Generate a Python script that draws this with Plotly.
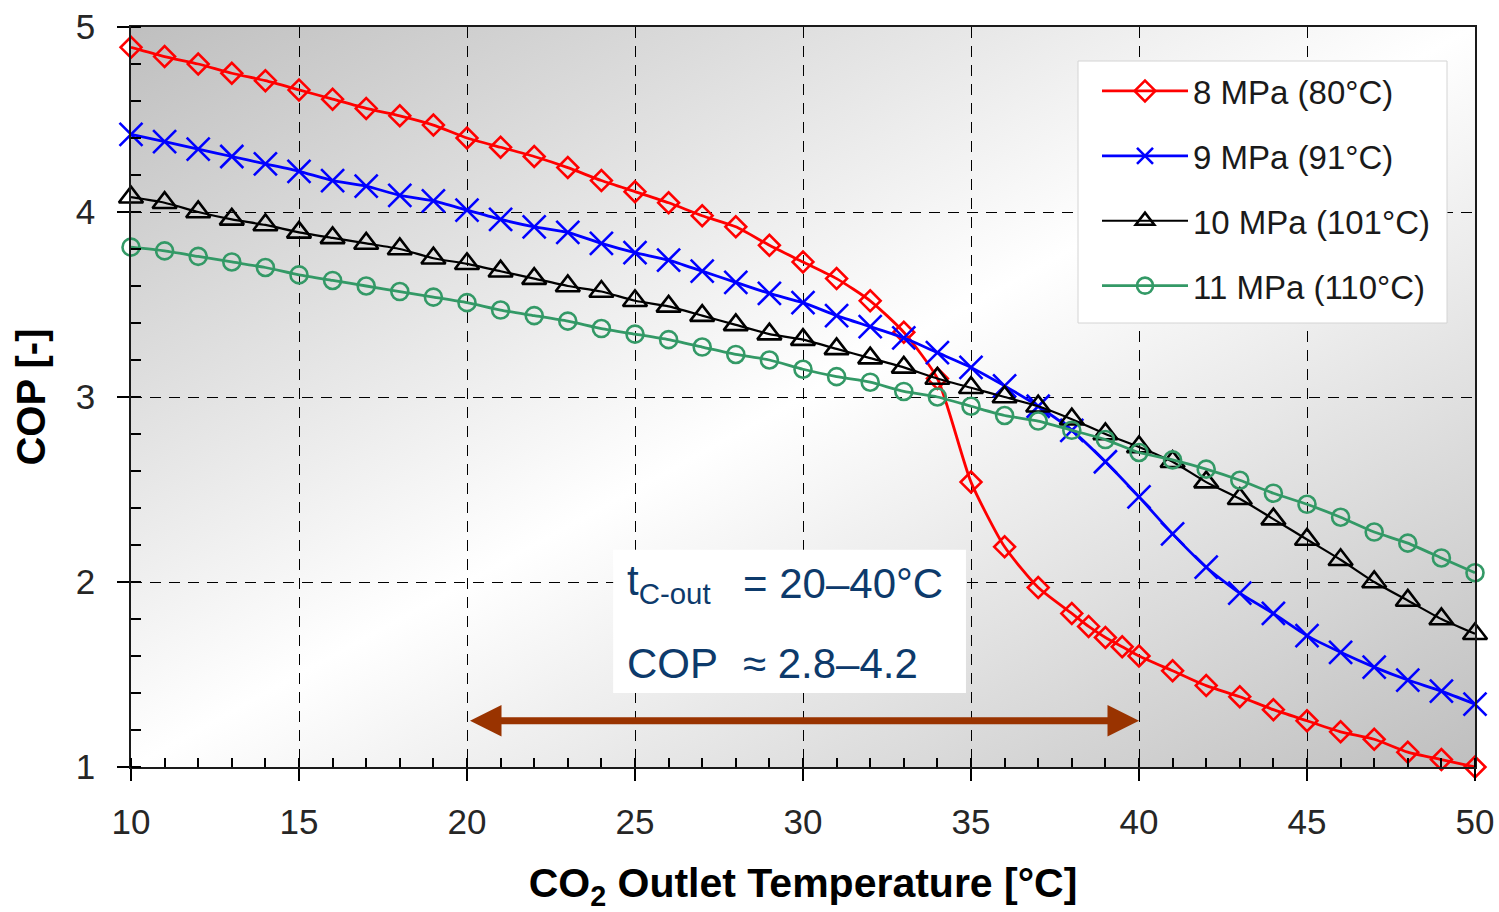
import base64
import plotly.graph_objects as go

# ---------------- data ----------------
temps = list(range(10, 51))
temps_8mpa = list(range(10, 39)) + [38.5, 39, 39.5, 40] + list(range(41, 51))

cop_8mpa = [4.89, 4.84, 4.80, 4.75, 4.71, 4.66, 4.61, 4.56, 4.52, 4.47,
            4.40, 4.35, 4.30, 4.24, 4.17, 4.11, 4.05, 3.98, 3.92, 3.82,
            3.73, 3.64, 3.52, 3.35, 3.10, 2.54, 2.19, 1.97, 1.83,
            1.76, 1.70, 1.65, 1.60,
            1.52, 1.44, 1.38, 1.31, 1.25, 1.19, 1.15, 1.08, 1.04, 1.00]

cop_9mpa = [4.42, 4.38, 4.34, 4.30, 4.26, 4.22, 4.17, 4.14, 4.09, 4.06,
            4.01, 3.96, 3.92, 3.89, 3.83, 3.78, 3.74, 3.68, 3.62, 3.56,
            3.51, 3.44, 3.38, 3.32, 3.24, 3.16, 3.06, 2.95, 2.82, 2.65,
            2.46, 2.26, 2.08, 1.94, 1.83, 1.71, 1.62, 1.54, 1.47, 1.41,
            1.34]

cop_10mpa = [4.08, 4.05, 4.00, 3.96, 3.93, 3.89, 3.86, 3.83, 3.80, 3.75,
             3.72, 3.68, 3.64, 3.60, 3.57, 3.52, 3.49, 3.44, 3.39, 3.34,
             3.31, 3.26, 3.21, 3.16, 3.10, 3.05, 3.00, 2.95, 2.88, 2.80,
             2.73, 2.65, 2.54, 2.45, 2.34, 2.23, 2.12, 2.00, 1.90, 1.80,
             1.72]

cop_11mpa = [3.81, 3.79, 3.76, 3.73, 3.70, 3.66, 3.63, 3.60, 3.57, 3.54,
             3.51, 3.47, 3.44, 3.41, 3.37, 3.34, 3.31, 3.27, 3.23, 3.20,
             3.15, 3.11, 3.08, 3.03, 3.00, 2.95, 2.90, 2.87, 2.82, 2.77,
             2.70, 2.66, 2.61, 2.55, 2.48, 2.42, 2.35, 2.27, 2.21, 2.13,
             2.05]

series_names = ["8 MPa (80°C)", "9 MPa (91°C)", "10 MPa (101°C)", "11 MPa (110°C)"]

x_ticks = [10, 15, 20, 25, 30, 35, 40, 45, 50]
y_ticks = [1, 2, 3, 4, 5]

range_x = [20, 40]
range_cop = "2.8–4.2"
arrow_y = 1.25

FONT = "Liberation Sans, Arial, sans-serif"
TEXT_BLUE = "#0d3a6b"

# ---------------- figure ----------------
fig = go.Figure()

styles = [
    (temps_8mpa, cop_8mpa, "#ff0000", "diamond-open", 16, 2.8),
    (temps, cop_9mpa, "#0000ff", "x-thin-open", 23, 2.8),
    (temps, cop_10mpa, "#000000", "triangle-up-open", 21, 2.2),
    (temps, cop_11mpa, "#339966", "circle-open", 17, 2.8),
]
for i, (xs, ys, col, sym, sz, lw) in enumerate(styles):
    fig.add_trace(go.Scatter(
        x=xs, y=ys, name=series_names[i], mode="lines+markers",
        legendgroup=f"g{i}",
        line=dict(color=col, width=lw, shape="spline", smoothing=0.6),
        marker=dict(symbol=sym, size=sz, color=col,
                    line=dict(color=col, width=2.6)),
        cliponaxis=False,
    ))

# background gradient (diagonal: gray -> white -> gray)
svg = ('<svg xmlns="http://www.w3.org/2000/svg" width="100" height="100" '
       'viewBox="0 0 100 100" preserveAspectRatio="none"><defs>'
       '<linearGradient id="g" x1="0" y1="0" x2="1" y2="1">'
       '<stop offset="0" stop-color="#bfbfbf"/>'
       '<stop offset="0.5" stop-color="#ffffff"/>'
       '<stop offset="1" stop-color="#bfbfbf"/>'
       '</linearGradient></defs>'
       '<rect width="100" height="100" fill="url(#g)"/></svg>')
src = "data:image/svg+xml;base64," + base64.b64encode(svg.encode()).decode()
fig.add_layout_image(dict(source=src, xref="paper", yref="paper", x=0, y=1,
                          sizex=1, sizey=1, sizing="stretch",
                          xanchor="left", yanchor="top", layer="below"))

# legend frame (drawn as a shape so the entries can be padded inside it)
fig.add_shape(type="rect", xref="paper", yref="paper",
              x0=(1078 - 131) / 1344, x1=(1447 - 131) / 1344,
              y0=(767 - 323) / 740, y1=(767 - 61) / 740,
              fillcolor="white", line=dict(color="#d4d4d4", width=1),
              layer="above")

# white text box
fig.add_shape(type="rect", xref="x", yref="y", x0=24.35, x1=34.85,
              y0=1.40, y1=2.175, fillcolor="white", line=dict(width=0),
              layer="between")

fig.add_annotation(x=24.7, y=1.99, xref="x", yref="y", xanchor="left",
                   yanchor="middle", showarrow=False,
                   text="t<sub>C-out</sub>",
                   font=dict(family=FONT, size=42, color=TEXT_BLUE))
fig.add_annotation(x=28.15, y=1.99, xref="x", yref="y", xanchor="left",
                   yanchor="middle", showarrow=False,
                   text=f"= {range_x[0]}–{range_x[1]}°C",
                   font=dict(family=FONT, size=42, color=TEXT_BLUE))
fig.add_annotation(x=24.7, y=1.56, xref="x", yref="y", xanchor="left",
                   yanchor="middle", showarrow=False, text="COP",
                   font=dict(family=FONT, size=42, color=TEXT_BLUE))
fig.add_annotation(x=28.15, y=1.56, xref="x", yref="y", xanchor="left",
                   yanchor="middle", showarrow=False, text=f"≈ {range_cop}",
                   font=dict(family=FONT, size=42, color=TEXT_BLUE))

# double-headed arrow
fig.add_annotation(x=range_x[1], y=arrow_y, ax=range_x[0], ay=arrow_y,
                   xref="x", yref="y", axref="x", ayref="y", text=" ",
                   showarrow=True, arrowhead=2, startarrowhead=2,
                   arrowside="end+start", arrowwidth=7, arrowsize=0.9,
                   startarrowsize=0.9, arrowcolor="#993300",
                   standoff=0, startstandoff=0)

axis_common = dict(
    showline=True, mirror=True, linecolor="#1a1a1a", linewidth=1.5,
    ticks="outside", ticklen=12, tickwidth=1.5, tickcolor="#000",
    showgrid=True, gridcolor="#000", gridwidth=1, griddash="11px,8px",
    zeroline=False,
    tickfont=dict(family=FONT, size=35, color="#262626"),
)

fig.update_xaxes(
    range=[10, 50], tickvals=x_ticks,
    minor=dict(dtick=1, ticks="inside", ticklen=9, tickwidth=1.5,
               tickcolor="#000", showgrid=False),
    ticklabelstandoff=11,
    title=dict(text="CO<sub>2</sub> Outlet Temperature [°C]",
               font=dict(family=FONT, size=41, color="#000", weight="bold"),
               standoff=38),
    **axis_common,
)
fig.update_yaxes(
    range=[1, 5], tickvals=y_ticks,
    minor=dict(dtick=0.2, ticks="inside", ticklen=10, tickwidth=1.5,
               tickcolor="#000", showgrid=False),
    ticklabelstandoff=15,
    title=dict(text="COP [-]",
               font=dict(family=FONT, size=40, color="#000", weight="bold"),
               standoff=18),
    **axis_common,
)

fig.update_layout(
    width=1499, height=912,
    margin=dict(l=131, r=24, t=27, b=145, autoexpand=False),
    paper_bgcolor="white", plot_bgcolor="rgba(0,0,0,0)",
    showlegend=True,
    legend=dict(x=(1097 - 131) / 1344, y=(767 - 63) / 740,
                xanchor="left", yanchor="top",
                bgcolor="rgba(0,0,0,0)", borderwidth=0,
                font=dict(family=FONT, size=33, color="#1a1a1a"),
                traceorder="grouped", tracegroupgap=19, itemwidth=86),
    font=dict(family=FONT),
)

fig.write_html("out.html", config={"displayModeBar": False},
               post_script="document.body.style.margin='0px';")
